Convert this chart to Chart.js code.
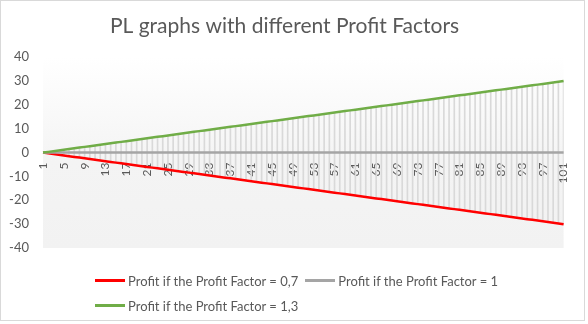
<!DOCTYPE html>
<html>
<head>
<meta charset="utf-8">
<script src="https://cdn.jsdelivr.net/npm/chart.js"></script>
<style>
  html, body { margin: 0; padding: 0; background: #fff; }
  #wrap { position: relative; width: 588px; height: 324px; }
  #frame { position: absolute; left: 0; top: 0; width: 585px; height: 321px; box-sizing: border-box; border: 1px solid #d9d9d9; pointer-events: none; }
  #myChart { position: absolute; left: 0; top: 0; }
  #legend { position: absolute; left: 95px; top: 268px; width: 480px; font-family: Lato, sans-serif; font-size: 13px; color: #595959; }
  #legend .row { display: flex; height: 25px; align-items: center; }
  #legend .item { display: flex; align-items: center; margin-right: 7px; }
  #legend .swatch { width: 30px; height: 3px; margin-right: 3px; }
</style>
</head>
<body>
<div id="wrap">
  <canvas id="myChart" width="588" height="324"></canvas>
  <div id="legend"></div>
  <div id="frame"></div>
</div>
<script>
// trade number on the x axis
var categories = [1, 2, 3, 4, 5, 6, 7, 8, 9, 10, 11, 12, 13, 14, 15, 16, 17, 18, 19, 20,
  21, 22, 23, 24, 25, 26, 27, 28, 29, 30, 31, 32, 33, 34, 35, 36, 37, 38, 39, 40,
  41, 42, 43, 44, 45, 46, 47, 48, 49, 50, 51, 52, 53, 54, 55, 56, 57, 58, 59, 60,
  61, 62, 63, 64, 65, 66, 67, 68, 69, 70, 71, 72, 73, 74, 75, 76, 77, 78, 79, 80,
  81, 82, 83, 84, 85, 86, 87, 88, 89, 90, 91, 92, 93, 94, 95, 96, 97, 98, 99, 100, 101];

// only every 4th trade gets a label
var xTickLabels = [1, 5, 9, 13, 17, 21, 25, 29, 33, 37, 41, 45, 49, 53, 57, 61, 65, 69,
  73, 77, 81, 85, 89, 93, 97, 101];
var yTicks = [-40, -30, -20, -10, 0, 10, 20, 30, 40];

var seriesNames = ["Profit if the Profit Factor = 0,7", "Profit if the Profit Factor = 1",
  "Profit if the Profit Factor = 1,3"];
var seriesColors = ["#ff0000", "#a5a5a5", "#70ad47"];

// PF 0,7 -> losing curve
var profitLow = [0, -0.3, -0.6, -0.9, -1.2, -1.5, -1.8, -2.1, -2.4, -2.7, -3, -3.3, -3.6, -3.9, -4.2, -4.5, -4.8, -5.1, -5.4, -5.7,
  -6, -6.3, -6.6, -6.9, -7.2, -7.5, -7.8, -8.1, -8.4, -8.7, -9, -9.3, -9.6, -9.9, -10.2, -10.5, -10.8, -11.1, -11.4, -11.7,
  -12, -12.3, -12.6, -12.9, -13.2, -13.5, -13.8, -14.1, -14.4, -14.7, -15, -15.3, -15.6, -15.9, -16.2, -16.5, -16.8, -17.1, -17.4, -17.7,
  -18, -18.3, -18.6, -18.9, -19.2, -19.5, -19.8, -20.1, -20.4, -20.7, -21, -21.3, -21.6, -21.9, -22.2, -22.5, -22.8, -23.1, -23.4, -23.7,
  -24, -24.3, -24.6, -24.9, -25.2, -25.5, -25.8, -26.1, -26.4, -26.7, -27, -27.3, -27.6, -27.9, -28.2, -28.5, -28.8, -29.1, -29.4, -29.7, -30];

// PF 1 -> flat
var profitEven = [0, 0, 0, 0, 0, 0, 0, 0, 0, 0, 0, 0, 0, 0, 0, 0, 0, 0, 0, 0,
  0, 0, 0, 0, 0, 0, 0, 0, 0, 0, 0, 0, 0, 0, 0, 0, 0, 0, 0, 0,
  0, 0, 0, 0, 0, 0, 0, 0, 0, 0, 0, 0, 0, 0, 0, 0, 0, 0, 0, 0,
  0, 0, 0, 0, 0, 0, 0, 0, 0, 0, 0, 0, 0, 0, 0, 0, 0, 0, 0, 0,
  0, 0, 0, 0, 0, 0, 0, 0, 0, 0, 0, 0, 0, 0, 0, 0, 0, 0, 0, 0, 0];

// PF 1,3 -> winning curve
var profitHigh = [0, 0.3, 0.6, 0.9, 1.2, 1.5, 1.8, 2.1, 2.4, 2.7, 3, 3.3, 3.6, 3.9, 4.2, 4.5, 4.8, 5.1, 5.4, 5.7,
  6, 6.3, 6.6, 6.9, 7.2, 7.5, 7.8, 8.1, 8.4, 8.7, 9, 9.3, 9.6, 9.9, 10.2, 10.5, 10.8, 11.1, 11.4, 11.7,
  12, 12.3, 12.6, 12.9, 13.2, 13.5, 13.8, 14.1, 14.4, 14.7, 15, 15.3, 15.6, 15.9, 16.2, 16.5, 16.8, 17.1, 17.4, 17.7,
  18, 18.3, 18.6, 18.9, 19.2, 19.5, 19.8, 20.1, 20.4, 20.7, 21, 21.3, 21.6, 21.9, 22.2, 22.5, 22.8, 23.1, 23.4, 23.7,
  24, 24.3, 24.6, 24.9, 25.2, 25.5, 25.8, 26.1, 26.4, 26.7, 27, 27.3, 27.6, 27.9, 28.2, 28.5, 28.8, 29.1, 29.4, 29.7, 30];

// high-low lines between lowest and highest curve
var highLow = profitLow.map(function (v, i) { return [v, profitHigh[i]]; });

var txt = "#595959";
var fontFam = "Lato, 'Open Sans', sans-serif";

// plot area fill, white fading to light grey
var plotBg = {
  id: "plotBg",
  beforeDraw: function (chart) {
    var a = chart.chartArea, ctx = chart.ctx;
    var g = ctx.createLinearGradient(0, a.top, 0, a.bottom);
    g.addColorStop(0, "#ffffff");
    g.addColorStop(0.55, "#f4f4f4");
    g.addColorStop(1, "#f2f2f2");
    ctx.save();
    ctx.fillStyle = g;
    ctx.fillRect(a.left, a.top, a.right - a.left, a.bottom - a.top);
    ctx.restore();
  }
};

var lineSets = [profitLow, profitEven, profitHigh].map(function (d, i) {
  return {
    type: "line",
    label: seriesNames[i],
    data: d,
    borderColor: seriesColors[i],
    backgroundColor: seriesColors[i],
    borderWidth: 2.5,
    pointRadius: 0,
    tension: 0,
    order: 3 - i
  };
});

new Chart("myChart", {
  type: "line",
  data: {
    labels: categories,
    datasets: lineSets.concat([{
      type: "bar",
      label: "hl",
      data: highLow,
      backgroundColor: "#d9d9d9",
      barThickness: 1,
      order: 10
    }])
  },
  options: {
    responsive: false,
    animation: false,
    layout: { padding: { left: 0, right: 19, top: 0, bottom: 76 } },
    plugins: {
      legend: { display: false },
      tooltip: { enabled: false },
      title: {
        display: true,
        text: "PL graphs with different Profit Factors",
        color: txt,
        font: { family: fontFam, size: 21, weight: "normal" },
        padding: { top: 14, bottom: 18 }
      }
    },
    scales: {
      x: {
        position: { y: 0 },
        offset: false,
        grid: { display: false, drawTicks: false },
        border: { display: false },
        ticks: {
          autoSkip: false,
          minRotation: 90,
          maxRotation: 90,
          padding: 10,
          color: txt,
          font: { family: fontFam, size: 12 },
          callback: function (val, idx) {
            var c = categories[idx];
            return xTickLabels.indexOf(c) >= 0 ? String(c) : "";
          }
        }
      },
      y: {
        min: yTicks[0],
        max: yTicks[yTicks.length - 1],
        grid: { display: false, drawTicks: false },
        border: { display: false },
        afterBuildTicks: function (s) {
          s.ticks = yTicks.map(function (v) { return { value: v }; });
        },
        afterFit: function (s) { s.width = 43; },
        ticks: {
          padding: 14,
          color: txt,
          font: { family: fontFam, size: 13 }
        }
      }
    }
  },
  plugins: [plotBg]
});

// legend: two rows, left aligned
var legend = document.getElementById("legend");
[[0, 1], [2]].forEach(function (row) {
  var r = document.createElement("div");
  r.className = "row";
  row.forEach(function (i) {
    var it = document.createElement("div");
    it.className = "item";
    it.innerHTML = '<span class="swatch" style="background:' + seriesColors[i] + '"></span>' + seriesNames[i];
    r.appendChild(it);
  });
  legend.appendChild(r);
});
</script>
</body>
</html>
